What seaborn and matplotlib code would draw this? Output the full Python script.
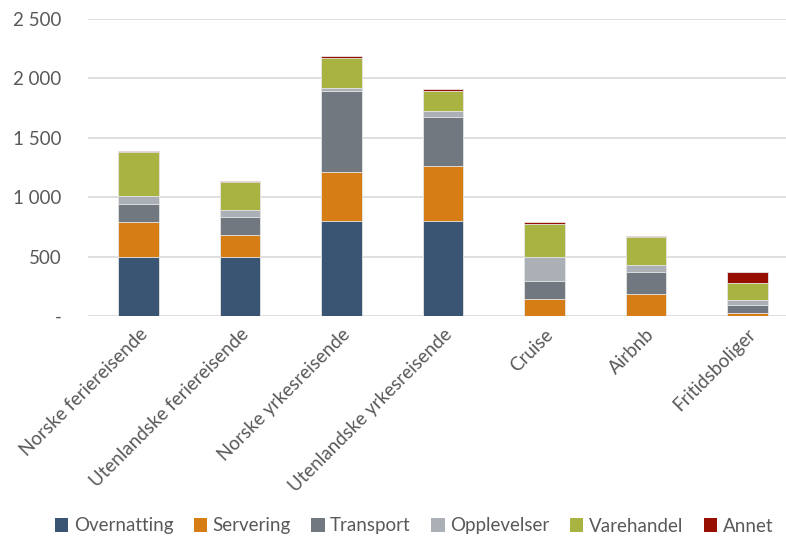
import numpy as np
import pandas as pd
import matplotlib
matplotlib.use("Agg")
import matplotlib.pyplot as plt
import seaborn as sns
from matplotlib.patches import Patch

categories = ["Norske feriereisende", "Utenlandske feriereisende", "Norske yrkesreisende",
              "Utenlandske yrkesreisende", "Cruise", "Airbnb", "Fritidsboliger"]
overnatting = [500, 500, 800, 800, 0, 0, 0]
servering   = [290, 184, 411, 461, 141, 189, 23]
transport   = [155, 152, 679, 418, 154, 179, 67]
opplevelser = [65, 59, 31, 45, 205, 59, 48]
varehandel  = [368, 236, 247, 166, 278, 238, 143]
annet       = [11, 8, 20, 17, 11, 8, 89]

series_names = ["Overnatting", "Servering", "Transport", "Opplevelser", "Varehandel", "Annet"]
series_vals = [overnatting, servering, transport, opplevelser, varehandel, annet]
colors = ["#3A5573", "#D67D16", "#717880", "#ABB0B6", "#A8B341", "#960F00"]

yticks = [0, 500, 1000, 1500, 2000, 2500]
ytick_labels = ["-", "500", "1 000", "1 500", "2 000", "2 500"]

sns.set_theme(style="white")
plt.rcParams["font.family"] = ["Lato", "DejaVu Sans"]
text_color = "#595959"
fs = 13.5

fig = plt.figure(figsize=(7.86, 5.38), dpi=100)
ax = fig.add_axes([88 / 786, (538 - 316) / 538, (798 - 88) / 786, (316 - 19) / 538])

ax.set_axisbelow(True)
for y in yticks:
    ax.axhline(y, color="#D9D9D9", lw=1.2, zorder=0)

cum = np.cumsum(np.array(series_vals), axis=0)
for i in range(len(series_names) - 1, -1, -1):
    df = pd.DataFrame({"cat": categories, "val": cum[i]})
    sns.barplot(data=df, x="cat", y="val", color=colors[i], saturation=1,
                width=0.4, ax=ax, edgecolor="#E8E8E8", linewidth=0.6, zorder=2)

ax.set_ylim(0, 2500)
ax.set_xlim(-0.5, 6.5)
ax.set_yticks(yticks)
ax.set_yticklabels(ytick_labels, color=text_color, fontsize=fs)
ax.tick_params(axis="y", length=0, pad=19)
ax.tick_params(axis="x", length=0, pad=7)
ax.set_xticks(range(len(categories)))
ax.set_xticklabels(categories, rotation=45, ha="right", rotation_mode="anchor",
                   color=text_color, fontsize=fs)
ax.set_xlabel("")
ax.set_ylabel("")
for s in ax.spines.values():
    s.set_visible(False)

handles = [Patch(facecolor=c, edgecolor="none", label=n) for n, c in zip(series_names, colors)]
fig.legend(handles=handles, loc="center", bbox_to_anchor=(414 / 786, 1 - 526 / 538),
           ncol=6, frameon=False, fontsize=fs, handlelength=0.7, handleheight=0.7,
           handletextpad=0.3, columnspacing=1.1, labelcolor=text_color)

fig.savefig("out.png", dpi=100)
